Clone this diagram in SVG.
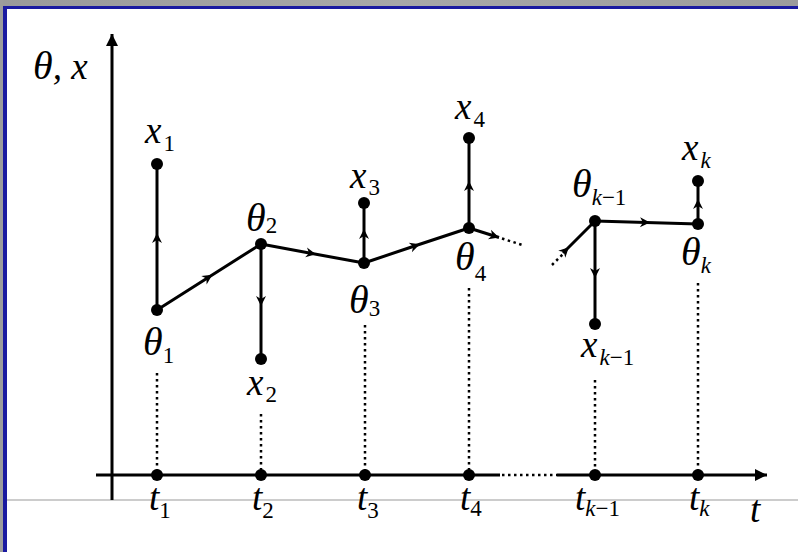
<svg xmlns="http://www.w3.org/2000/svg" width="798" height="552" viewBox="0 0 798 552">
<defs>
<linearGradient id="gbar" x1="0" y1="0" x2="1" y2="0">
<stop offset="0" stop-color="#9a9a9a"/><stop offset="0.5" stop-color="#a8a8a8"/><stop offset="1" stop-color="#9c9c9c"/>
</linearGradient>
<marker id="mid" markerUnits="userSpaceOnUse" markerWidth="14" markerHeight="14" viewBox="-12 -7 14 14" refX="-4" refY="0" orient="auto">
<path d="M0,0 L-10,-5 L-7,0 L-10,5 Z" fill="#000"/>
</marker>
<marker id="endm" markerUnits="userSpaceOnUse" markerWidth="14" markerHeight="14" viewBox="-12 -7 14 14" refX="0" refY="0" orient="auto">
<path d="M0,0 L-10,-5 L-7,0 L-10,5 Z" fill="#000"/>
</marker>
<marker id="axis" markerUnits="userSpaceOnUse" markerWidth="16" markerHeight="16" viewBox="-14 -8 16 16" refX="0" refY="0" orient="auto">
<path d="M0,0 L-12,-6 L-12,6 Z" fill="#000"/>
</marker>
</defs>
<style>
.edge{stroke:#000;stroke-width:3;fill:none}
.dot{stroke:#000;stroke-width:2.5;stroke-dasharray:2.5 3.5;fill:none}
.node{fill:#000}
</style>
<rect x="0" y="0" width="798" height="552" fill="#fff"/>
<rect x="0" y="0" width="798" height="6" fill="url(#gbar)"/>
<rect x="0" y="6" width="798" height="3" fill="#1a1aa0"/>
<rect x="0" y="0" width="3" height="552" fill="#9c9c9c"/>
<rect x="3" y="6" width="4" height="546" fill="#1a1aa0"/>
<line x1="7" y1="500" x2="798" y2="500" stroke="#999" stroke-width="1"/>

<g id="axes">
<line x1="112" y1="500" x2="112" y2="34" stroke="#000" stroke-width="3" marker-end="url(#axis)"/>
<line x1="96" y1="475" x2="500" y2="475" stroke="#000" stroke-width="3"/>
<line x1="502" y1="475" x2="557" y2="475" class="dot"/>
<line x1="557" y1="475" x2="767" y2="475" stroke="#000" stroke-width="3" marker-end="url(#axis)"/>
<text font-family="Liberation Serif" font-style="italic" font-size="37" x="33" y="79"><tspan font-size="40">θ</tspan>, x</text>
<text font-family="Liberation Serif" font-style="italic" font-size="37" x="750" y="522">t</text>
</g>

<g id="connectors">
<polyline class="edge" points="157,310 157,237 157,164" marker-mid="url(#mid)"/>
<polyline class="edge" points="157,310 209,277 261,244" marker-mid="url(#mid)"/>
<polyline class="edge" points="261,244 261,302 261,359" marker-mid="url(#mid)"/>
<polyline class="edge" points="261,244 312,253.5 364,263" marker-mid="url(#mid)"/>
<polyline class="edge" points="364,263 364,233 364,203" marker-mid="url(#mid)"/>
<polyline class="edge" points="364,263 416,245.5 469,228" marker-mid="url(#mid)"/>
<polyline class="edge" points="469,228 469,185 469,138" marker-mid="url(#mid)"/>
<line class="edge" x1="469" y1="228" x2="499" y2="237.5" marker-end="url(#endm)"/>
<line class="dot" x1="502" y1="238.5" x2="524" y2="245.5"/>
<line class="dot" x1="552" y1="265" x2="564" y2="253"/>
<polyline class="edge" points="563,253 566,250 595,221" marker-mid="url(#mid)"/>
<polyline class="edge" points="595,221 595,274 595,324" marker-mid="url(#mid)"/>
<polyline class="edge" points="595,221 646,222.5 698,224" marker-mid="url(#mid)"/>
<polyline class="edge" points="698,224 698,203 698,181" marker-mid="url(#mid)"/>
<line class="dot" x1="157" y1="373" x2="157" y2="470"/>
<line class="dot" x1="261" y1="414" x2="261" y2="470"/>
<line class="dot" x1="365" y1="325" x2="365" y2="470"/>
<line class="dot" x1="469" y1="288" x2="469" y2="470"/>
<line class="dot" x1="595" y1="380" x2="595" y2="470"/>
<line class="dot" x1="698" y1="283" x2="698" y2="470"/>
</g>

<g id="theta1"><circle class="node" cx="157" cy="310" r="6"/><text font-family="Liberation Serif" font-style="italic" font-size="40" x="143" y="355">θ<tspan font-style="normal" font-size="23" dy="8">1</tspan></text></g>
<g id="x1"><circle class="node" cx="157" cy="164" r="6"/><text font-family="Liberation Serif" font-style="italic" font-size="37" x="145" y="143">x<tspan font-style="normal" font-size="23" dx="2" dy="8">1</tspan></text></g>
<g id="theta2"><circle class="node" cx="261" cy="244" r="6"/><text font-family="Liberation Serif" font-style="italic" font-size="40" x="246" y="231">θ<tspan font-style="normal" font-size="23" dy="2">2</tspan></text></g>
<g id="x2"><circle class="node" cx="261" cy="359" r="6"/><text font-family="Liberation Serif" font-style="italic" font-size="37" x="247" y="395">x<tspan font-style="normal" font-size="23" dx="2" dy="7">2</tspan></text></g>
<g id="theta3"><circle class="node" cx="364" cy="263" r="6"/><text font-family="Liberation Serif" font-style="italic" font-size="40" x="349" y="313">θ<tspan font-style="normal" font-size="23" dy="3">3</tspan></text></g>
<g id="x3"><circle class="node" cx="364" cy="203" r="6"/><text font-family="Liberation Serif" font-style="italic" font-size="37" x="350" y="188">x<tspan font-style="normal" font-size="23" dx="2" dy="7">3</tspan></text></g>
<g id="theta4"><circle class="node" cx="469" cy="228" r="6"/><text font-family="Liberation Serif" font-style="italic" font-size="40" x="455" y="270">θ<tspan font-style="normal" font-size="23" dy="11">4</tspan></text></g>
<g id="x4"><circle class="node" cx="469" cy="138" r="6"/><text font-family="Liberation Serif" font-style="italic" font-size="37" x="455" y="119">x<tspan font-style="normal" font-size="23" dx="2" dy="8">4</tspan></text></g>
<g id="theta_k-1"><circle class="node" cx="595" cy="221" r="6"/><text font-family="Liberation Serif" font-style="italic" font-size="40" x="572" y="197">θ<tspan font-size="23" dy="8">k</tspan><tspan font-style="normal" font-size="23">−1</tspan></text></g>
<g id="x_k-1"><circle class="node" cx="595" cy="324" r="6"/><text font-family="Liberation Serif" font-style="italic" font-size="37" x="581" y="357">x<tspan font-size="23" dx="2" dy="8">k</tspan><tspan font-style="normal" font-size="23">−1</tspan></text></g>
<g id="theta_k"><circle class="node" cx="698" cy="224" r="6"/><text font-family="Liberation Serif" font-style="italic" font-size="40" x="681" y="265">θ<tspan font-size="23" dy="8">k</tspan></text></g>
<g id="x_k"><circle class="node" cx="698" cy="181" r="6"/><text font-family="Liberation Serif" font-style="italic" font-size="37" x="682" y="160">x<tspan font-size="23" dx="2" dy="8">k</tspan></text></g>

<g id="t1"><circle class="node" cx="157" cy="475" r="6"/><text font-family="Liberation Serif" font-style="italic" font-size="37" x="149" y="510">t<tspan font-style="normal" font-size="23" dy="8">1</tspan></text></g>
<g id="t2"><circle class="node" cx="261" cy="475" r="6"/><text font-family="Liberation Serif" font-style="italic" font-size="37" x="252" y="510">t<tspan font-style="normal" font-size="23" dy="8">2</tspan></text></g>
<g id="t3"><circle class="node" cx="365" cy="475" r="6"/><text font-family="Liberation Serif" font-style="italic" font-size="37" x="357" y="510">t<tspan font-style="normal" font-size="23" dy="8">3</tspan></text></g>
<g id="t4"><circle class="node" cx="469" cy="475" r="6"/><text font-family="Liberation Serif" font-style="italic" font-size="37" x="460" y="510">t<tspan font-style="normal" font-size="23" dy="6">4</tspan></text></g>
<g id="t_k-1"><circle class="node" cx="595" cy="475" r="6"/><text font-family="Liberation Serif" font-style="italic" font-size="37" x="575" y="510">t<tspan font-size="23" dy="6">k</tspan><tspan font-style="normal" font-size="23">−1</tspan></text></g>
<g id="t_k"><circle class="node" cx="698" cy="475" r="6"/><text font-family="Liberation Serif" font-style="italic" font-size="37" x="689" y="510">t<tspan font-size="23" dy="6">k</tspan></text></g>
</svg>
